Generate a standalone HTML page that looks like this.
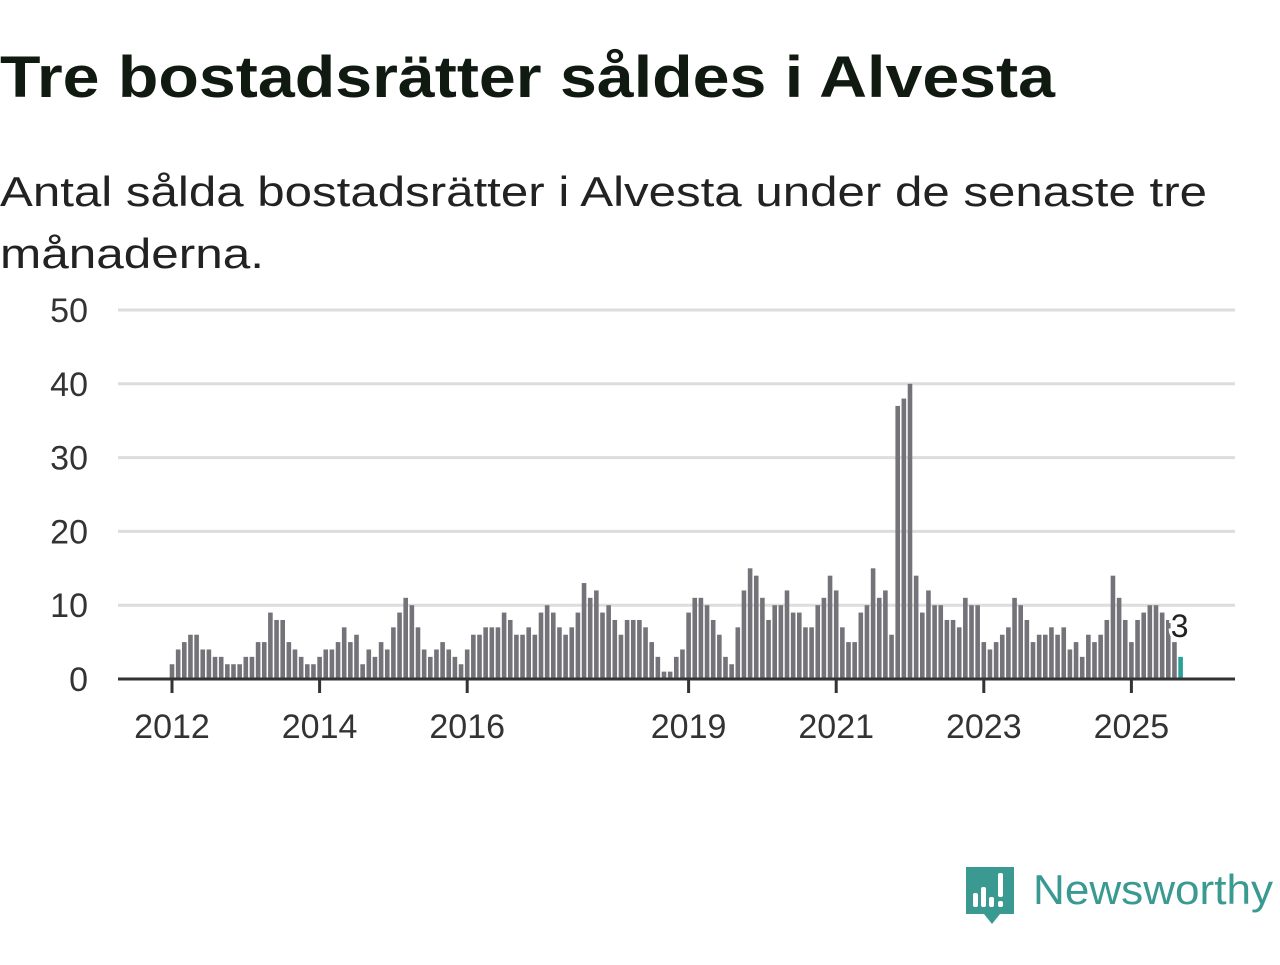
<!DOCTYPE html>
<html><head><meta charset="utf-8"><style>
body{margin:0;background:#fff;width:1280px;height:960px;overflow:hidden;font-family:"Liberation Sans","DejaVu Sans",sans-serif;}
</style></head><body>
<svg width="1280" height="960">
<text x="0" y="97" font-size="58" font-weight="bold" fill="#111a11" textLength="1055" lengthAdjust="spacingAndGlyphs">Tre bostadsrätter såldes i Alvesta</text>
<text x="0" y="206" font-size="42" fill="#222" textLength="1207" lengthAdjust="spacingAndGlyphs">Antal sålda bostadsrätter i Alvesta under de senaste tre</text>
<text x="0" y="268" font-size="42" fill="#222" textLength="264" lengthAdjust="spacingAndGlyphs">månaderna.</text>
<g id="grid"></g><g id="bars"></g><g id="axes"></g>
<g>
<path d="M966 867h48v47h-14l-8 10-8-10h-18z" fill="#3a9a92"/>
<rect x="973" y="893" width="5" height="14" rx="2" fill="#fff"/><rect x="981" y="887" width="5" height="20" rx="2" fill="#fff"/><rect x="989" y="897" width="5" height="10" rx="2" fill="#fff"/><rect x="998" y="873" width="5" height="24" rx="2" fill="#fff"/><rect x="998" y="901" width="5" height="6" rx="2" fill="#fff"/>
<text x="1033" y="904" font-size="42" fill="#3a9a92" textLength="240" lengthAdjust="spacingAndGlyphs">Newsworthy</text>
</g>
</svg>
<script>
const values=[2,4,5,6,6,4,4,3,3,2,2,2,
3,3,5,5,9,8,8,5,4,3,2,2,
3,4,4,5,7,5,6,2,4,3,5,4,
7,9,11,10,7,4,3,4,5,4,3,2,
4,6,6,7,7,7,9,8,6,6,7,6,
9,10,9,7,6,7,9,13,11,12,9,10,
8,6,8,8,8,7,5,3,1,1,3,4,
9,11,11,10,8,6,3,2,7,12,15,14,
11,8,10,10,12,9,9,7,7,10,11,14,
12,7,5,5,9,10,15,11,12,6,37,38,
40,14,9,12,10,10,8,8,7,11,10,10,
5,4,5,6,7,11,10,8,5,6,6,7,
6,7,4,5,3,6,5,6,8,14,11,8,
5,8,9,10,10,9,8,5,3];
const yTicks=[0,10,20,30,40,50];
const xTickLabels=["2012","2014","2016","2019","2021","2023","2025"];
const xTickMonths=[0,24,48,84,108,132,156];
const NS="http://www.w3.org/2000/svg";
const x=i=>172+i*6.15, y=v=>679-v*7.38;
function mk(t,a,p){const e=document.createElementNS(NS,t);for(const k in a)e.setAttribute(k,a[k]);p.appendChild(e);return e;}
const g=document.getElementById('grid'),b=document.getElementById('bars'),ax=document.getElementById('axes');
yTicks.forEach(v=>{
 if(v>0){const l=mk('line',{x1:118,x2:1235,y1:y(v),y2:y(v),stroke:'#ddd','stroke-width':3},g);
 
 }
 const t=mk('text',{x:88,y:y(v)+12,'font-size':34,fill:'#333','text-anchor':'end'},ax);t.textContent=v;
 
 
});
values.forEach((v,i)=>{
 const last=i===values.length-1;
 const r=mk('rect',{x:x(i)-2.3,y:y(v),width:4.6,height:v*7.38,fill:last?'#2aa198':'#747379'},b);
 
 
});
const al=mk('line',{x1:118,x2:1235,y1:679,y2:679,stroke:'#333','stroke-width':3},ax);


xTickMonths.forEach((m,k)=>{
 mk('line',{x1:x(m),x2:x(m),y1:679,y2:693,stroke:'#333','stroke-width':3},ax);
 const t=mk('text',{x:x(m),y:738,'font-size':34,fill:'#333','text-anchor':'middle'},ax);t.textContent=xTickLabels[k];
 
 
});
const li=values.length-1;
const lab=mk('text',{x:x(li)-1,y:y(values[li])-20,'font-size':32,fill:'#222','text-anchor':'middle',stroke:'#fff','stroke-width':6,'paint-order':'stroke'},ax);
lab.textContent=values[li];


</script>
</body></html>
